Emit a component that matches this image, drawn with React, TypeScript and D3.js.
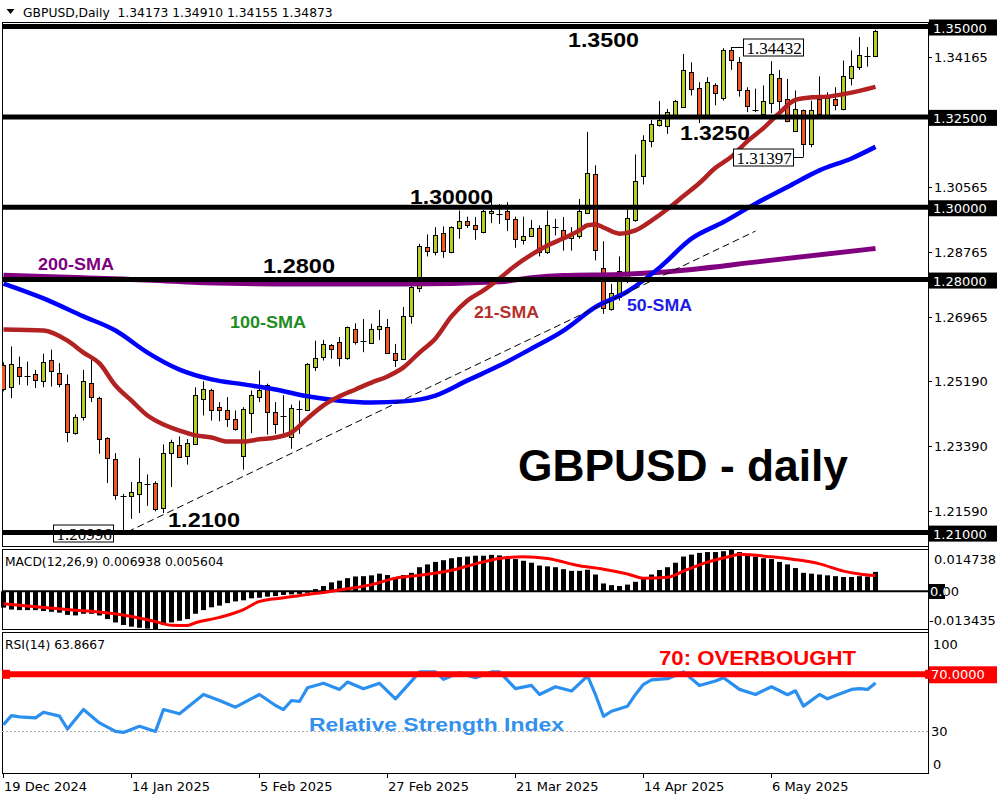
import React from 'react';
import * as d3 from 'd3';

// GBPUSD daily bars, 19 Dec 2024 .. 23 May 2025
const opens = [
  1.2564, 1.2502, 1.2559, 1.2533, 1.2539, 1.2519, 1.2578, 1.2542, 1.2512, 1.2375,
  1.2419, 1.2513, 1.2473, 1.2361, 1.2304, 1.2200, 1.2201, 1.2207, 1.2233, 1.2237,
  1.2170, 1.2321, 1.2343, 1.2313, 1.2347, 1.2470, 1.2495, 1.2447, 1.2440, 1.2415,
  1.2311, 1.2433, 1.2475, 1.2507, 1.2433, 1.2418, 1.2364, 1.2443, 1.2440, 1.2558,
  1.2585, 1.2619, 1.2627, 1.2581, 1.2664, 1.2629, 1.2625, 1.2664, 1.2670, 1.2597,
  1.2579, 1.2698, 1.2779, 1.2890, 1.2876, 1.2929, 1.2876, 1.2943, 1.2963, 1.2950,
  1.2932, 1.2985, 1.2982, 1.2991, 1.2968, 1.2910, 1.2922, 1.2943, 1.2876, 1.2943,
  1.2938, 1.2915, 1.2922, 1.2984, 1.3091, 1.2832, 1.2719, 1.2751, 1.2797, 1.2963,
  1.3088, 1.3183, 1.3226, 1.3223, 1.3254, 1.3279, 1.3374, 1.3330, 1.3249, 1.3337,
  1.3303, 1.3436, 1.3401, 1.3325, 1.3270, 1.3260, 1.3288, 1.3358, 1.3300, 1.3212,
  1.3270, 1.3175, 1.3300, 1.3256, 1.3300, 1.3270, 1.3358, 1.3388, 1.3417, 1.34173,
];
const highs = [
  1.2571, 1.2615, 1.2587, 1.2573, 1.2550, 1.2595, 1.2606, 1.2569, 1.2537, 1.2427,
  1.2550, 1.2578, 1.2476, 1.2364, 1.2320, 1.2207, 1.2240, 1.2306, 1.2261, 1.2242,
  1.2344, 1.2357, 1.2366, 1.2359, 1.2502, 1.2519, 1.2498, 1.2461, 1.2475, 1.2438,
  1.2447, 1.2493, 1.2548, 1.2512, 1.2461, 1.2480, 1.2454, 1.2465, 1.2569, 1.2631,
  1.2633, 1.2622, 1.2641, 1.2670, 1.2679, 1.2691, 1.2678, 1.2716, 1.2691, 1.2622,
  1.2724, 1.2784, 1.2899, 1.2925, 1.2945, 1.2947, 1.2947, 1.2991, 1.2974, 1.2973,
  1.2993, 1.3028, 1.3009, 1.3014, 1.2974, 1.2974, 1.2965, 1.2950, 1.2991, 1.2968,
  1.2973, 1.2945, 1.3023, 1.3208, 1.3116, 1.2906, 1.2788, 1.2864, 1.2993, 1.3146,
  1.3199, 1.3242, 1.3294, 1.3272, 1.3297, 1.3424, 1.3401, 1.3346, 1.3360, 1.3343,
  1.3440, 1.34432, 1.3415, 1.3332, 1.3328, 1.3337, 1.3404, 1.3380, 1.3355, 1.3323,
  1.3270, 1.3295, 1.3362, 1.3318, 1.3332, 1.3406, 1.3434, 1.3471, 1.3443, 1.34910,
];
const lows = [
  1.2491, 1.2472, 1.2509, 1.2507, 1.2500, 1.2502, 1.2504, 1.2502, 1.2350, 1.2371,
  1.2410, 1.2461, 1.2318, 1.2237, 1.2191, 1.20996, 1.2138, 1.2154, 1.2174, 1.2159,
  1.2154, 1.2226, 1.2307, 1.2288, 1.2344, 1.2424, 1.2410, 1.2408, 1.2392, 1.2382,
  1.2274, 1.2375, 1.2461, 1.2371, 1.2373, 1.2375, 1.2332, 1.2373, 1.2438, 1.2547,
  1.2576, 1.2581, 1.2560, 1.2578, 1.2620, 1.2599, 1.2624, 1.2633, 1.2595, 1.2558,
  1.2578, 1.2678, 1.2765, 1.2864, 1.2867, 1.2860, 1.2873, 1.2913, 1.2943, 1.2910,
  1.2928, 1.2956, 1.2954, 1.2934, 1.2888, 1.2897, 1.2919, 1.2864, 1.2871, 1.2922,
  1.2880, 1.2880, 1.2913, 1.2982, 1.2853, 1.2705, 1.2714, 1.2742, 1.2790, 1.2960,
  1.3063, 1.3166, 1.3223, 1.3203, 1.3249, 1.3277, 1.3309, 1.3233, 1.3245, 1.3282,
  1.3295, 1.3380, 1.3306, 1.3263, 1.3263, 1.3258, 1.3260, 1.3258, 1.3235, 1.3208,
  1.31397, 1.3166, 1.3254, 1.3254, 1.3268, 1.3268, 1.3337, 1.3380, 1.3389, 1.34155,
];
const closes = [
  1.2498, 1.2567, 1.2533, 1.2530, 1.2523, 1.2571, 1.2547, 1.2512, 1.2378, 1.2419,
  1.2518, 1.2475, 1.2359, 1.2307, 1.2205, 1.2196, 1.2213, 1.2240, 1.2234, 1.2165,
  1.2321, 1.2351, 1.2311, 1.2348, 1.2482, 1.2498, 1.2440, 1.2438, 1.2415, 1.2387,
  1.2442, 1.2482, 1.2495, 1.2433, 1.2399, 1.2422, 1.2445, 1.2442, 1.2567, 1.2583,
  1.2622, 1.2608, 1.2583, 1.2668, 1.2627, 1.2628, 1.2664, 1.2671, 1.2597, 1.2579,
  1.2698, 1.2779, 1.2894, 1.2878, 1.2922, 1.2878, 1.2945, 1.2963, 1.2951, 1.2938,
  1.2991, 1.2991, 1.2980, 1.2968, 1.2913, 1.2920, 1.2943, 1.2876, 1.2950, 1.2944,
  1.2915, 1.2927, 1.2991, 1.3094, 1.2882, 1.2722, 1.2762, 1.2823, 1.2971, 1.3072,
  1.3187, 1.3231, 1.3240, 1.3263, 1.3295, 1.3380, 1.3328, 1.3249, 1.3346, 1.3314,
  1.3436, 1.3408, 1.3323, 1.3281, 1.3269, 1.3295, 1.3369, 1.3294, 1.3240, 1.3272,
  1.3175, 1.3270, 1.3258, 1.3303, 1.3284, 1.3362, 1.3392, 1.3420, 1.3418, 1.34873,
];

// moving averages as [bar, price]
const sma21: [number, number][] = [
  [0, 1.2662], [5, 1.2659], [8, 1.2631], [10, 1.2598], [12, 1.2568], [14, 1.2507], [16, 1.2465],
  [18, 1.2424], [20, 1.2399], [22, 1.2382], [24, 1.2369], [26, 1.2363], [28, 1.2352], [30, 1.2352],
  [32, 1.2358], [34, 1.2363], [36, 1.2377], [38, 1.2416], [40, 1.2452], [42, 1.2477], [44, 1.2496],
  [46, 1.2515], [48, 1.2532], [50, 1.2557], [52, 1.2598], [54, 1.2637], [56, 1.2698], [58, 1.2742],
  [60, 1.2770], [62, 1.2803], [64, 1.2839], [66, 1.2869], [68, 1.2894], [70, 1.2914], [72, 1.2936],
  [73, 1.2950], [74, 1.2952], [75, 1.2944], [77, 1.2927], [79, 1.2936], [81, 1.2963], [83, 1.2995],
  [85, 1.3031], [87, 1.3067], [89, 1.3109], [91, 1.3140], [93, 1.3183], [95, 1.3219], [97, 1.3261],
  [99, 1.3297], [101, 1.3304], [103, 1.3306], [105, 1.3313], [107, 1.3322], [109, 1.3333],
];
const sma50: [number, number][] = [
  [0, 1.2789], [5, 1.2748], [10, 1.2698], [14, 1.2659], [18, 1.2598], [22, 1.2551], [26, 1.2524],
  [30, 1.2510], [34, 1.2496], [38, 1.2477], [42, 1.2465], [46, 1.2460], [50, 1.2463], [54, 1.2479],
  [58, 1.2521], [62, 1.2562], [66, 1.2609], [70, 1.2659], [74, 1.2724], [78, 1.2767], [82, 1.2833],
  [86, 1.2913], [90, 1.2959], [94, 1.3010], [98, 1.3056], [102, 1.3102], [106, 1.3135], [109, 1.3167],
];
const sma200: [number, number][] = [
  [0, 1.2812], [10, 1.2805], [20, 1.2797], [25, 1.2791], [37, 1.2788], [50, 1.2788], [62, 1.2794],
  [66, 1.2805], [70, 1.2811], [77, 1.2814], [82, 1.2820], [95, 1.2851], [109, 1.2886],
];
const trendline: [number, number][] = [[15.5, 1.2102], [94, 1.2934]];

const levels = [1.35, 1.325, 1.3, 1.28, 1.21];
const levelNotes = ['1.3500', '1.3250', '1.30000', '1.2800', '1.2100'];
const priceTicks = [1.34165, 1.30565, 1.28765, 1.26965, 1.2519, 1.2339, 1.2159];
const swingLabels: [number, number][] = [[91, 1.34432], [100, 1.31397], [15, 1.20996]];

const macdHist = [
  -0.0058, -0.0065, -0.0067, -0.0067, -0.0067, -0.0070, -0.0073, -0.0076, -0.0084, -0.0086,
  -0.0080, -0.0080, -0.0086, -0.0099, -0.0111, -0.0120, -0.0126, -0.0130, -0.0133, -0.013435,
  -0.0120, -0.0111, -0.0105, -0.0099, -0.0080, -0.0067, -0.0057, -0.0051, -0.0042, -0.0036,
  -0.0032, -0.0025, -0.0023, -0.0019, -0.0017, -0.0013, -0.0011, -0.0009, -0.0005, 0.0008,
  0.0019, 0.0032, 0.0038, 0.0047, 0.0053, 0.0054, 0.0057, 0.0063, 0.0058, 0.0050,
  0.0058, 0.0066, 0.0086, 0.0096, 0.0105, 0.0111, 0.0118, 0.0122, 0.0124, 0.0127,
  0.0127, 0.0130, 0.0128, 0.0124, 0.0115, 0.0109, 0.0102, 0.0092, 0.0089, 0.0086,
  0.0079, 0.0073, 0.0073, 0.0077, 0.0060, 0.0028, 0.0022, 0.0019, 0.0024, 0.0034,
  0.0047, 0.0060, 0.0076, 0.0086, 0.0102, 0.0124, 0.0131, 0.0137, 0.0140, 0.0140,
  0.0143, 0.014738, 0.0140, 0.0131, 0.0124, 0.0118, 0.0115, 0.0105, 0.0096, 0.0083,
  0.0066, 0.0063, 0.0060, 0.0057, 0.0054, 0.0051, 0.0051, 0.0054, 0.0053, 0.006938,
];
const macdSignal: [number, number][] = [
  [0, -0.0044], [4, -0.0055], [8, -0.0065], [12, -0.0074], [16, -0.0090], [19, -0.0108],
  [21, -0.0121], [23, -0.0122], [24, -0.0112], [27, -0.0093], [30, -0.0065], [32, -0.0036],
  [35, -0.0023], [38, -0.0011], [40, -0.0004], [43, 0.0009], [46, 0.0024], [49, 0.0047],
  [52, 0.0057], [56, 0.0075], [59, 0.0098], [62, 0.0117], [65, 0.0123], [68, 0.0117],
  [72, 0.0091], [75, 0.0079], [78, 0.0062], [80, 0.0047], [83, 0.0050], [85, 0.0072],
  [88, 0.0104], [91, 0.0126], [92, 0.0132], [96, 0.0123], [99, 0.0113], [102, 0.0098],
  [105, 0.0072], [107, 0.0062], [109, 0.005604],
];
const rsi: [number, number][] = [
  [0, 34.3], [1, 40.7], [2, 39.8], [4, 39.1], [5, 43.1], [7, 40.3], [8, 31.2], [10, 45], [12, 35.5],
  [14, 29.5], [15, 28.8], [17, 33.1], [19, 29.5], [20, 45], [22, 42], [25, 55.7], [27, 51.4],
  [29, 46.7], [32, 55.7], [34, 47.9], [35, 45], [36, 51.4], [37, 50.7], [38, 60.5], [40, 63.6],
  [42, 59.3], [43, 64.5], [45, 59.8], [47, 63.6], [49, 52.6], [51, 65.2], [52, 71.7], [54, 71.7],
  [55, 66.4], [57, 71.2], [59, 67.6], [61, 71.7], [62, 71.7], [64, 59.8], [66, 62.1], [67, 55.7],
  [69, 61.2], [71, 58.1], [73, 68.8], [74, 55.5], [75, 40.2], [76, 43.8], [78, 47.4], [79, 55.7],
  [80, 62.9], [81, 66], [83, 66.9], [85, 71.7], [87, 62.1], [89, 65.2], [90, 67.6], [92, 59.3],
  [94, 55.7], [96, 61.2], [98, 55.5], [99, 58.3], [100, 47.4], [102, 55.7], [103, 52.6],
  [104, 55], [106, 59.3], [107, 59.8], [108, 59.3], [109, 63.8667],
];

const dateTicks: [number, string][] = [
  [0, '19 Dec 2024'], [16, '14 Jan 2025'], [32, '5 Feb 2025'], [48, '27 Feb 2025'],
  [64, '21 Mar 2025'], [80, '14 Apr 2025'], [96, '6 May 2025'],
];

// layout
const L = 2, R = 928;
const MAIN = { top: 22, bottom: 546 };
const MACD_P = { top: 549, bottom: 629 };
const RSI_P = { top: 632, bottom: 773 };
const BULL = '#b5cc26';
const BEAR = '#f0581e';
const UI = 'DejaVu Sans, Verdana, sans-serif';
const BOLD = 'Liberation Sans, Arial, sans-serif';

// where the level captions sit: left x and offset of the baseline from the line
const notePos = [
  { x: 568, dy: 20.5, w: 71 }, { x: 680, dy: 23, w: 70 }, { x: 410, dy: -3, w: 83 },
  { x: 263, dy: -6.5, w: 72 }, { x: 168, dy: -5.5, w: 72 },
];

const App: React.FC = () => {
  const n = opens.length;
  const x = d3.scaleLinear().domain([0, n - 1]).range([3.5, 3.5 + 8 * (n - 1)]);
  const y = d3.scaleLinear().domain([1.21, 1.35]).range([532.6, 26.5]);
  const yM = d3.scaleLinear().domain([-0.013435, 0.014738]).range([629, 550]);
  const yR = d3.scaleLinear().domain([0, 100]).range([RSI_P.bottom, RSI_P.top]);
  const px = (v: number) => Math.round(v) + 0.5;

  const smaLine = d3.line<[number, number]>().x(d => x(d[0])).y(d => y(d[1])).curve(d3.curveMonotoneX);
  const sigLine = d3.line<[number, number]>().x(d => x(d[0])).y(d => yM(d[1])).curve(d3.curveMonotoneX);
  const rsiLine = d3.line<[number, number]>().x(d => x(d[0])).y(d => yR(d[1]));
  const last = n - 1;
  const fmt = (v: number) => v.toFixed(5);

  return (
    <div style={{ position: 'absolute', left: 0, top: 0 }}>
      <svg width={1000} height={800} style={{ display: 'block', background: '#fff' }}>
        <defs>
          <clipPath id="mainClip"><rect x={L} y={MAIN.top} width={R - L} height={MAIN.bottom - MAIN.top} /></clipPath>
          <clipPath id="zeroBox"><rect x={929} y={584} width={16} height={15} /></clipPath>
        </defs>

        {/* header */}
        <path d="M6.5,9 L14.5,9 L10.5,14 Z" fill="#000" />
        <text x={23} y={17} fontFamily={UI} fontSize={12.3} style={{ whiteSpace: 'pre' }}>
          {`GBPUSD,Daily  ${fmt(opens[last])} ${fmt(highs[last])} ${fmt(lows[last])} ${fmt(closes[last])}`}
        </text>

        {/* panel frames */}
        {[MAIN, MACD_P, RSI_P].map((p, k) => (
          <rect key={k} x={L + 0.5} y={p.top + 0.5} width={R - L} height={p.bottom - p.top} fill="none" stroke="#000" />
        ))}

        {/* main chart */}
        <g clipPath="url(#mainClip)">
          {opens.map((o, i) => {
            const c = closes[i];
            const cx = x(i);
            const top = y(Math.max(o, c));
            const bot = y(Math.min(o, c));
            return (
              <g key={i}>
                <line x1={cx} x2={cx} y1={y(highs[i])} y2={y(lows[i])} stroke="#000" />
                {bot - top < 1.6 ? (
                  <line x1={cx - 3} x2={cx + 3} y1={px(top)} y2={px(top)} stroke="#000" />
                ) : (
                  <rect x={cx - 2} y={px(top)} width={4} height={Math.max(1, Math.round(bot - top))}
                    fill={c > o ? BULL : BEAR} stroke="#000" />
                )}
              </g>
            );
          })}

          <path d={smaLine(sma200) || ''} fill="none" stroke="#800080" strokeWidth={5} />
          <path d={smaLine(sma50) || ''} fill="none" stroke="#0000ff" strokeWidth={4.5} />
          <path d={smaLine(sma21) || ''} fill="none" stroke="#b22222" strokeWidth={4.5} />
          <line x1={x(trendline[0][0])} y1={y(trendline[0][1])} x2={x(trendline[1][0])} y2={y(trendline[1][1])}
            stroke="#000" strokeDasharray="7,4" />

          {swingLabels.map(([bar, price], k) => {
            const cx = x(bar);
            const cy = px(y(price));
            const w = 60, h = 17;
            const toRight = k === 0;
            const bx = toRight ? Math.round(cx + 11.5) + 0.5 : Math.round(cx - 10.5 - w) + 0.5;
            return (
              <g key={k}>
                <line x1={toRight ? cx : bx + w} x2={toRight ? bx : cx} y1={cy} y2={cy} stroke="#000" />
                <rect x={bx} y={cy - h / 2} width={w} height={h} fill="#fff" stroke="#000" />
                <text x={bx + 3} y={cy + 6} fontFamily="Liberation Serif, Times New Roman, serif" fontSize={17}>{fmt(price)}</text>
              </g>
            );
          })}

          {levels.map(lv => (
            <line key={lv} x1={0} x2={R} y1={y(lv)} y2={y(lv)} stroke="#000" strokeWidth={5} />
          ))}
        </g>

        {levelNotes.map((t, k) => (
          <text key={t} x={notePos[k].x} y={y(levels[k]) + notePos[k].dy} fontFamily={BOLD} fontWeight="bold"
            fontSize={21} textLength={notePos[k].w} lengthAdjust="spacingAndGlyphs">{t}</text>
        ))}
        <text x={38} y={270} fontFamily={BOLD} fontWeight="bold" fontSize={16} fill="#800080" textLength={76} lengthAdjust="spacingAndGlyphs">200-SMA</text>
        <text x={230} y={328} fontFamily={BOLD} fontWeight="bold" fontSize={16} fill="#1f8c1f" textLength={76} lengthAdjust="spacingAndGlyphs">100-SMA</text>
        <text x={474} y={318} fontFamily={BOLD} fontWeight="bold" fontSize={16} fill="#b5302a" textLength={65} lengthAdjust="spacingAndGlyphs">21-SMA</text>
        <text x={627} y={311} fontFamily={BOLD} fontWeight="bold" fontSize={16} fill="#1c1ce6" textLength={65} lengthAdjust="spacingAndGlyphs">50-SMA</text>
        <text x={518} y={481} fontFamily={BOLD} fontWeight="bold" fontSize={44} textLength={330} lengthAdjust="spacingAndGlyphs">GBPUSD - daily</text>

        {/* right price axis */}
        <line x1={R + 0.5} x2={R + 0.5} y1={MAIN.top} y2={RSI_P.bottom} stroke="#000" />
        {priceTicks.map(v => (
          <g key={v}>
            <line x1={R} x2={R + 4} y1={px(y(v))} y2={px(y(v))} stroke="#000" />
            <text x={934} y={y(v) + 5} fontFamily={UI} fontSize={13}>{fmt(v)}</text>
          </g>
        ))}
        {levels.map(v => (
          <g key={v}>
            <rect x={929} y={y(v) - 7} width={68} height={16} fill="#000" />
            <text x={933} y={y(v) + 6} fontFamily={UI} fontSize={13} fill="#fff">{fmt(v)}</text>
          </g>
        ))}

        {/* MACD */}
        {macdHist.map((v, i) => {
          const y0 = yM(0), y1 = yM(v);
          return <rect key={i} x={x(i) - 2.5} y={Math.min(y0, y1)} width={5} height={Math.abs(y1 - y0)} fill="#000" />;
        })}
        <line x1={L} x2={R + 4} y1={yM(0)} y2={yM(0)} stroke="#000" strokeWidth={2} />
        <path d={sigLine(macdSignal) || ''} fill="none" stroke="#ff0000" strokeWidth={3} />
        <text x={5} y={566} fontFamily={UI} fontSize={12.3}>
          {`MACD(12,26,9) ${macdHist[last].toFixed(6)} ${macdSignal[macdSignal.length - 1][1].toFixed(6)}`}
        </text>
        <text x={934} y={564} fontFamily={UI} fontSize={13}>0.014738</text>
        <text x={929} y={625} fontFamily={UI} fontSize={13}>-0.013435</text>
        <rect x={929} y={584} width={16} height={15} fill="#000" />
        <text x={930} y={596} fontFamily={UI} fontSize={13} fill="#000">0.00</text>
        <text x={930} y={596} fontFamily={UI} fontSize={13} fill="#fff" clipPath="url(#zeroBox)">0.00</text>

        {/* RSI */}
        <line x1={L} x2={R} y1={px(yR(30))} y2={px(yR(30))} stroke="#b0b0b0" strokeDasharray="2,2" />
        <path d={rsiLine(rsi) || ''} fill="none" stroke="#2b8ff0" strokeWidth={3.2} strokeLinejoin="round" />
        <line x1={L} x2={R} y1={yR(70)} y2={yR(70)} stroke="#ff0000" strokeWidth={6} />
        <rect x={L} y={yR(70) - 4.5} width={8} height={9} fill="#ff0000" />
        <rect x={R - 3} y={yR(70) - 4.5} width={8} height={9} fill="#ff0000" />
        <rect x={929} y={yR(70) - 8} width={68} height={17} fill="#ff0000" />
        <text x={931} y={yR(70) + 5} fontFamily={UI} fontSize={13} fill="#fff">70.0000</text>
        <text x={5} y={649} fontFamily={UI} fontSize={12.3}>{`RSI(14) ${rsi[rsi.length - 1][1].toFixed(4)}`}</text>
        <text x={933} y={649} fontFamily={UI} fontSize={13}>100</text>
        <text x={931} y={yR(30) + 5} fontFamily={UI} fontSize={13}>30</text>
        <text x={933} y={769} fontFamily={UI} fontSize={13}>0</text>
        <text x={659} y={665} fontFamily={BOLD} fontWeight="bold" fontSize={20} fill="#ff0000" textLength={197} lengthAdjust="spacingAndGlyphs">70: OVERBOUGHT</text>
        <text x={309} y={731} fontFamily={BOLD} fontWeight="bold" fontSize={18} fill="#3391ee" textLength={255} lengthAdjust="spacingAndGlyphs">Relative Strength Index</text>

        {/* time axis */}
        {dateTicks.map(([bar, label]) => (
          <g key={label}>
            <line x1={x(bar)} x2={x(bar)} y1={RSI_P.bottom} y2={RSI_P.bottom + 5} stroke="#000" />
            <text x={x(bar) + 0.5} y={791} fontFamily={UI} fontSize={13}>{label}</text>
          </g>
        ))}
      </svg>
    </div>
  );
};

export default App;
